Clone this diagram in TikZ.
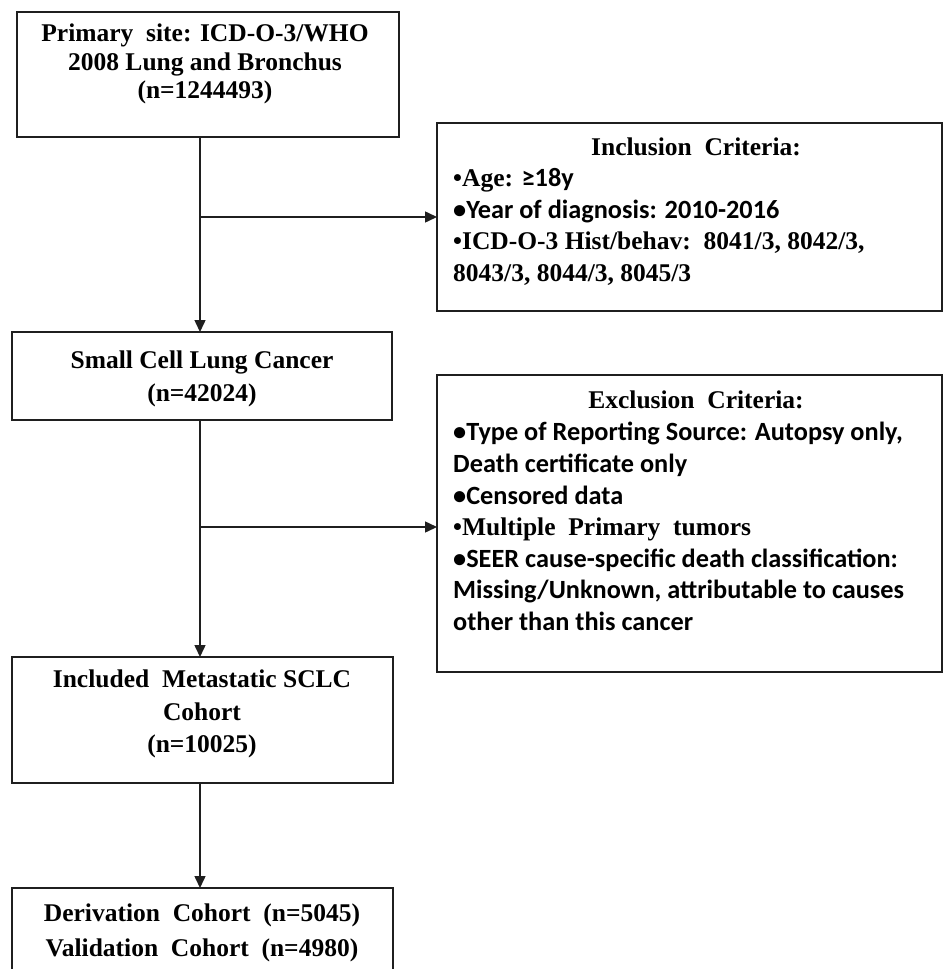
\documentclass[tikz,border=0pt]{standalone}
\usepackage{fontspec}
\setmainfont{Liberation Serif}
\newfontfamily\calib{Carlito}
\usetikzlibrary{arrows.meta}
\begin{document}
\begin{tikzpicture}[x=1pt,y=-1pt,
  box/.style={draw=black!88, line width=1.8pt, rectangle, inner sep=0pt, outer sep=0pt, anchor=north west},
  arr/.style={draw=black!88, line width=1.5pt, -{Triangle[length=12pt,width=11pt]}},
  tm/.style={font=\bfseries\fontsize{25.5}{30}\selectfont, inner sep=0pt, anchor=base},
  tml/.style={font=\bfseries\fontsize{25.5}{30}\selectfont, inner sep=0pt, anchor=base west},
  cr/.style={font=\calib\bfseries\fontsize{26.3}{30}\selectfont, inner sep=0pt, anchor=base west}
]
\path[use as bounding box] (0,0) rectangle (951,969);
\clip (0,0) rectangle (951,969);
\fill[white] (0,0) rectangle (951,969);

% boxes
\node[box, minimum width=382pt, minimum height=125pt] (box1) at (17,12) {};
\node[box, minimum width=505pt, minimum height=188pt] (incl) at (437,123) {};
\node[box, minimum width=380pt, minimum height=88pt] (box2) at (12,332) {};
\node[box, minimum width=505pt, minimum height=297pt] (excl) at (437,375) {};
\node[box, minimum width=381pt, minimum height=126pt] (box3) at (12,657) {};
\node[box, minimum width=381pt, minimum height=120pt] (box4) at (12,888) {};

% box 1 text
\node[tm] (b1a) at (205,41) {Primary\ \ site: ICD-O-3/WHO};
\node[tm] (b1b) at (205,70) {2008 Lung and Bronchus};
\node[tm] (b1c) at (205,98) {(n=1244493)};

% inclusion text
\node[tm] (inT) at (696,155) {Inclusion\ \ Criteria:};
\node[tml] (in1) at (453,186.5) {•Age: {\calib\fontsize{26.3}{30}\selectfont ≥18y}};
\node[cr] (in2) at (453,218) {•Year of diagnosis: 2010-2016};
\node[tml] (in3) at (453,249.5) {•ICD-O-3 Hist/behav:\ \ 8041/3, 8042/3,};
\node[tml] (in4) at (453,281) {8043/3, 8044/3, 8045/3};

% box 2 text
\node[tm] (b2a) at (202,368) {Small Cell Lung Cancer};
\node[tm] (b2b) at (202,401) {(n=42024)};

% exclusion text
\node[tm] (exT) at (696,408) {Exclusion\ \ Criteria:};
\node[cr] (ex1) at (453,440) {•Type of Reporting Source: Autopsy only,};
\node[cr] (ex2) at (453,472) {Death certificate only};
\node[cr] (ex3) at (453,504) {•Censored data};
\node[tml] (ex4) at (453,535) {•Multiple\ \ Primary\ \ tumors};
\node[cr] (ex5) at (453,567) {•SEER cause-specific death classification:};
\node[cr] (ex6) at (453,598) {Missing/Unknown, attributable to causes};
\node[cr] (ex7) at (453,630) {other than this cancer};

% box 3 text
\node[tm] (b3a) at (202,687) {Included\ \ Metastatic SCLC};
\node[tm] (b3b) at (202,720) {Cohort};
\node[tm] (b3c) at (202,752) {(n=10025)};

% box 4 text
\node[tm] (b4a) at (202,921) {Derivation\ \ Cohort\ \ (n=5045)};
\node[tm] (b4b) at (202,956) {Validation\ \ Cohort\ \ (n=4980)};

% connectors
\coordinate (spine) at (200,0);
\draw[arr] (spine |- box1.south) -- (spine |- box2.north);
\draw[arr] (spine |- incl.west) -- (incl.west);
\draw[arr] (spine |- box2.south) -- (spine |- box3.north);
\draw[arr] ([yshift=-3.5pt]spine |- excl.west) -- ([yshift=-3.5pt]excl.west);
\draw[arr] (spine |- box3.south) -- (spine |- box4.north);
\end{tikzpicture}
\end{document}
